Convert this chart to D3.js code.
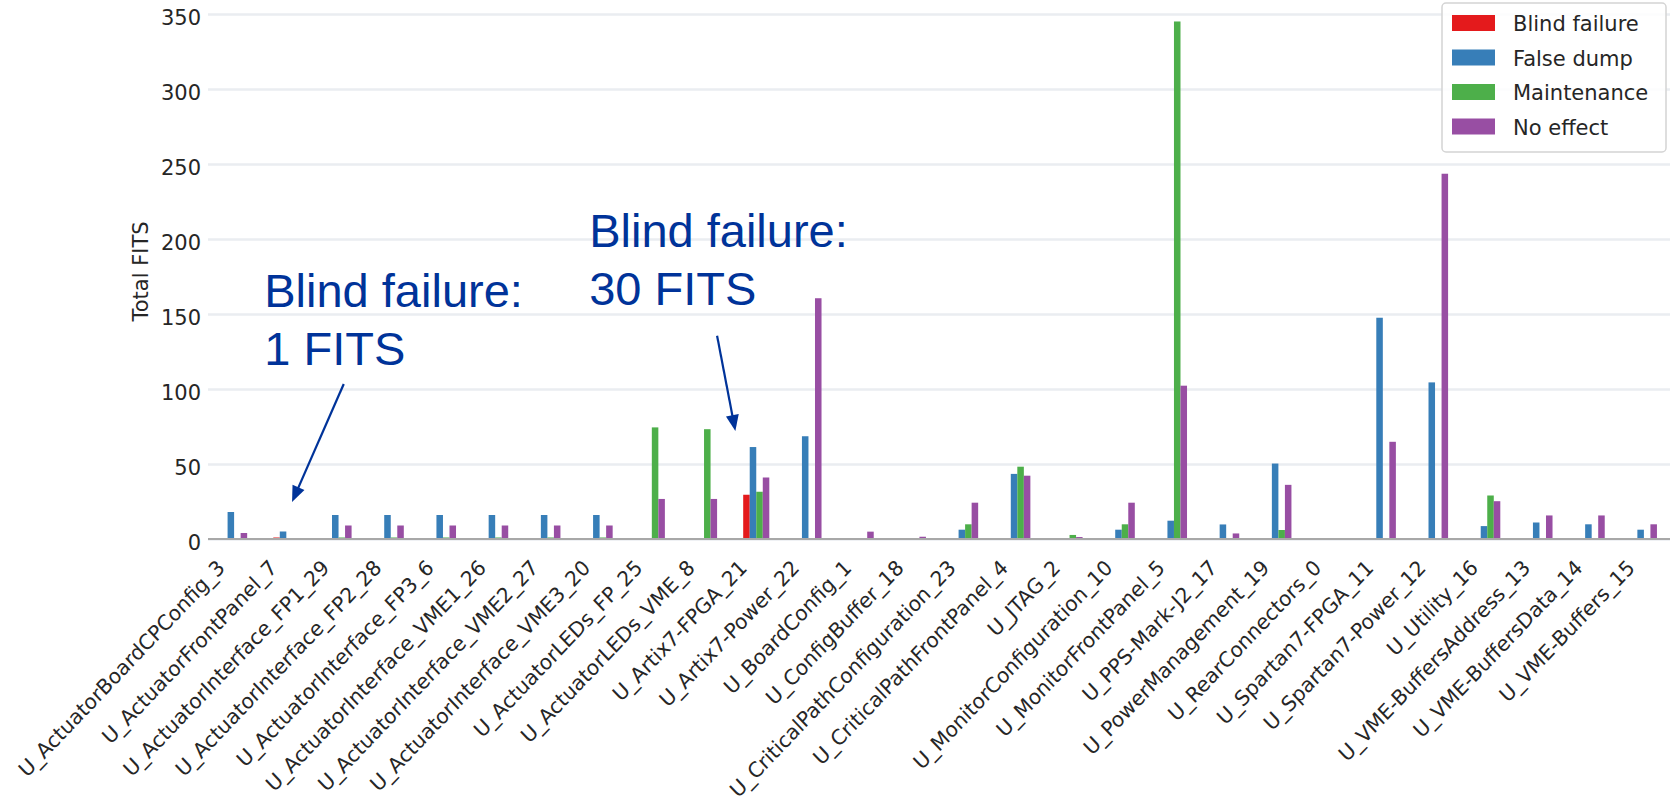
<!DOCTYPE html>
<html>
<head>
<meta charset="utf-8">
<script src="https://cdn.jsdelivr.net/npm/d3@7"></script>
<style>
	body { margin: 0; background: #fff; }
	svg { display: block; }
	.tick text { font-family: "DejaVu Sans", sans-serif; font-size: 21px; fill: #262626; }
	.x.axis .tick text { font-size: 20px; }
</style>
</head>
<body>
<div id="graphic"></div>
<script>
// categories on the x axis
const categories = [
	'U_ActuatorBoardCPConfig_3', 'U_ActuatorFrontPanel_7', 'U_ActuatorInterface_FP1_29',
	'U_ActuatorInterface_FP2_28', 'U_ActuatorInterface_FP3_6', 'U_ActuatorInterface_VME1_26',
	'U_ActuatorInterface_VME2_27', 'U_ActuatorInterface_VME3_20', 'U_ActuatorLEDs_FP_25',
	'U_ActuatorLEDs_VME_8', 'U_Artix7-FPGA_21', 'U_Artix7-Power_22', 'U_BoardConfig_1',
	'U_ConfigBuffer_18', 'U_CriticalPathConfiguration_23', 'U_CriticalPathFrontPanel_4',
	'U_JTAG_2', 'U_MonitorConfiguration_10', 'U_MonitorFrontPanel_5', 'U_PPS-Mark-J2_17',
	'U_PowerManagement_19', 'U_RearConnectors_0', 'U_Spartan7-FPGA_11', 'U_Spartan7-Power_12',
	'U_Utility_16', 'U_VME-BuffersAddress_13', 'U_VME-BuffersData_14', 'U_VME-Buffers_15'
];

const seriesNames = ['Blind failure', 'False dump', 'Maintenance', 'No effect'];

// series values (Total FITS)
const blindFailure = [0, 1, 0, 0, 0, 0, 0, 0, 0, 0, 29.5, 0, 0, 0, 0, 0, 0, 0, 0, 0, 0, 0, 0, 0, 0, 0, 0, 0];
const falseDump = [18, 5, 16, 16, 16, 16, 16, 16, 0, 0, 61.3, 68.5, 0, 0, 6.2, 43.4, 0, 6.2, 12.2, 9.7, 50.3, 0, 147.5, 104.4, 8.6, 11, 9.8, 6.2];
const maintenance = [0, 0, 1, 1, 1, 1, 1, 1, 74.4, 73.2, 31.5, 0, 0, 0, 9.8, 48.2, 2.7, 9.8, 345, 0, 6, 0, 0, 0, 29, 0, 0, 0];
const noEffect = [4, 0, 9, 9, 9, 9, 9, 9, 26.7, 26.7, 41, 160.5, 4.9, 1.5, 24.2, 42.2, 1.3, 24.2, 102.2, 3.7, 36.1, 0, 64.8, 243.5, 25.2, 15.7, 15.7, 9.8];

const yTicks = [0, 50, 100, 150, 200, 250, 300, 350];
const colour_palette = ['#e41a1c', '#377eb8', '#4daf4a', '#984ea3'];

// annotation texts
const annotationLines = [
	['Blind failure:', '1 FITS'],
	['Blind failure:', '30 FITS']
];

const width = 1672, height = 803;
const plotLeft = 208, plotRight = 1670, plotBottom = 539, plotTop = -4.4;

const seriesValues = [blindFailure, falseDump, maintenance, noEffect];
const graphic_data = categories.map((name, i) => ({
	name: name,
	values: seriesNames.map((s, j) => ({ series: s, value: seriesValues[j][i] }))
}));

const svg = d3.select('#graphic')
	.append('svg')
	.attr('width', width)
	.attr('height', height);

//set up scales
const x = d3.scaleBand().domain(categories).range([plotLeft, plotRight]).padding(0);
const xInner = d3.scaleBand().domain(seriesNames)
	.range([x.bandwidth() * 0.25, x.bandwidth() * 0.75]).padding(0);
const xIdx = d3.scaleLinear().domain([-0.5, categories.length - 0.5]).range([plotLeft, plotRight]);

const ymax = d3.max(seriesValues, s => d3.max(s)) * 1.05;
const y = d3.scaleLinear().domain([0, ymax]).range([plotBottom, plotTop]);

const colour = d3.scaleOrdinal().domain(seriesNames).range(colour_palette);

// gridlines + y tick labels
const yAxis = d3.axisLeft(y)
	.tickValues(yTicks)
	.tickSize(-(plotRight - plotLeft))
	.tickPadding(7);

svg.append('g')
	.attr('class', 'y axis')
	.attr('transform', 'translate(' + plotLeft + ',0)')
	.call(yAxis)
	.call(g => g.select('.domain').remove())
	.call(g => g.selectAll('.tick line').attr('stroke', '#eaedf1').attr('stroke-width', 2.5))
	.call(g => g.selectAll('.tick text').attr('dy', '0.48em'));

// bars
svg.append('g')
	.selectAll('g')
	.data(graphic_data)
	.join('g')
	.attr('transform', d => 'translate(' + x(d.name) + ',0)')
	.selectAll('rect')
	.data(d => d.values)
	.join('rect')
	.attr('x', d => xInner(d.series))
	.attr('width', xInner.bandwidth())
	.attr('y', d => y(d.value))
	.attr('height', d => y(0) - y(d.value))
	.attr('fill', d => colour(d.series));

// x axis, labels slightly stretched vertically like the source image
const xAxis = d3.axisBottom(x).tickSize(0).tickPadding(0);

svg.append('g')
	.attr('class', 'x axis')
	.attr('transform', 'translate(0,' + plotBottom + ')')
	.call(xAxis)
	.call(g => g.select('.domain').remove())
	.call(g => g.selectAll('.tick text')
		.attr('y', null)
		.attr('dy', null)
		.attr('text-anchor', 'end')
		.attr('transform', 'translate(-8,30) scale(1,1.05) rotate(-45)'));

svg.append('line')
	.attr('x1', plotLeft).attr('x2', plotRight)
	.attr('y1', y(0)).attr('y2', y(0))
	.attr('stroke', '#a8a8a8')
	.attr('stroke-width', 2);

// y axis label
svg.append('text')
	.attr('transform', 'translate(148,' + ((plotBottom + 14) / 2 - 5) + ') rotate(-90)')
	.attr('text-anchor', 'middle')
	.style('font-family', '"DejaVu Sans", sans-serif')
	.style('font-size', '21px')
	.style('fill', '#262626')
	.text('Total FITS');

// legend
const legend = svg.append('g');

legend.append('rect')
	.attr('x', 1442).attr('y', 3)
	.attr('width', 224).attr('height', 149)
	.attr('rx', 4)
	.attr('fill', 'rgba(255,255,255,0.85)')
	.attr('stroke', '#d4d4d4')
	.attr('stroke-width', 1.5);

const legenditem = legend.selectAll('g.item')
	.data(seriesNames)
	.join('g')
	.attr('class', 'item')
	.attr('transform', (d, i) => 'translate(0,' + (23 + i * 34.5) + ')');

legenditem.append('rect')
	.attr('x', 1452).attr('y', -8)
	.attr('width', 43).attr('height', 16)
	.attr('fill', d => colour(d));

legenditem.append('text')
	.attr('x', 1513).attr('y', 8)
	.style('font-family', '"DejaVu Sans", sans-serif')
	.style('font-size', '21px')
	.style('fill', '#262626')
	.text(d => d);

// annotations (placed in category index / value space)
const annotations = [
	{ lines: annotationLines[0], tx: 0.577, ty: 154.7, from: [2.1, 103.3], to: [1.11, 24.7] },
	{ lines: annotationLines[1], tx: 6.8, ty: 194.7, from: [9.25, 135.5], to: [9.6, 72] }
];

const annColour = '#003399';

annotations.forEach(a => {
	const g = svg.append('g');
	g.selectAll('text')
		.data(a.lines)
		.join('text')
		.attr('x', xIdx(a.tx))
		.attr('y', (d, i) => y(a.ty) + i * 58)
		.style('font-family', '"Liberation Sans", Arial, sans-serif')
		.style('font-size', '47px')
		.style('fill', annColour)
		.text(d => d);

	const sx = xIdx(a.from[0]), sy = y(a.from[1]);
	const tx = xIdx(a.to[0]), ty = y(a.to[1]);
	const len = Math.hypot(tx - sx, ty - sy);
	const ux = (tx - sx) / len, uy = (ty - sy) / len;
	const bx = tx - ux * 16, by = ty - uy * 16;

	g.append('line')
		.attr('x1', sx).attr('y1', sy)
		.attr('x2', bx + ux * 2).attr('y2', by + uy * 2)
		.attr('stroke', annColour)
		.attr('stroke-width', 2.2);

	g.append('polygon')
		.attr('points', [
			[tx, ty],
			[bx - uy * 6.5, by + ux * 6.5],
			[bx + uy * 6.5, by - ux * 6.5]
		].map(p => p.join(',')).join(' '))
		.attr('fill', annColour);
});
</script>
</body>
</html>
